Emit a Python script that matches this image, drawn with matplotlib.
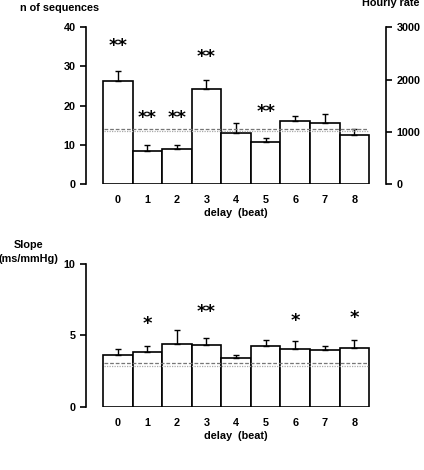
import numpy as np
import matplotlib
matplotlib.use("Agg")
import matplotlib.pyplot as plt

plt.rcParams['font.family'] = ['Liberation Sans', 'DejaVu Sans']
plt.rcParams['font.weight'] = 'bold'

# data
delays = [0, 1, 2, 3, 4, 5, 6, 7, 8]
n_seq = [26.3, 8.3, 8.9, 24.2, 12.9, 10.6, 16.0, 15.6, 12.6]
n_seq_err = [2.5, 1.7, 1.1, 2.4, 2.7, 1.1, 1.4, 2.3, 1.5]
n_seq_stars = ['**', '**', '**', '**', '', '**', '', '', '']
n_seq_star_y = [35.2, 16.8, 16.8, 32.4, 0, 18.4, 0, 0, 0]
n_seq_dash = 14.1
n_seq_dot = 13.6

slope = [3.61, 3.82, 4.42, 4.33, 3.42, 4.24, 4.05, 3.96, 4.14]
slope_err = [0.42, 0.44, 0.99, 0.52, 0.19, 0.47, 0.56, 0.28, 0.57]
slope_stars = ['', '*', '', '**', '', '', '*', '', '*']
slope_star_y = [0, 5.78, 0, 6.67, 0, 0, 6.04, 0, 6.2]
slope_dash = 3.07
slope_dot = 2.84

fs = 7.8

fig = plt.figure(figsize=(4.24, 4.7), dpi=100)


def bars(ax, vals, errs, stars, star_y, dash, dot):
    x = np.array(delays)
    ax.bar(x, vals, width=1.0, color='white', edgecolor='black', linewidth=1.2, zorder=2)
    ax.errorbar(x, vals, yerr=[np.zeros(len(errs)), errs], fmt='none', ecolor='black',
                elinewidth=1.0, capsize=2, capthick=1.0, zorder=3)
    ax.plot([-0.45, 8.45], [dash, dash], color='#777777', ls=(0, (3, 1.5)), lw=0.9, zorder=4)
    ax.plot([-0.45, 8.45], [dot, dot], color='#aaaaaa', ls=(0, (1, 1)), lw=0.9, zorder=4)
    for xi, s, yy in zip(x, stars, star_y):
        if s:
            ax.text(xi, yy, s, ha='center', va='center', fontsize=13, fontweight='bold',
                    family='DejaVu Sans')
    ax.set_xlim(-1.07, 9.07)
    ax.set_xticks(x)
    ax.set_xticklabels([str(d) for d in delays], fontsize=fs, fontweight='bold')
    ax.tick_params(axis='x', length=0, pad=8)
    ax.tick_params(axis='y', labelsize=fs, width=1.2, length=4)
    ax.spines['top'].set_visible(False)
    ax.spines['bottom'].set_visible(False)
    ax.spines['right'].set_visible(False)
    ax.spines['left'].set_linewidth(1.2)
    ax.set_xlabel('delay  (beat)', fontsize=fs, fontweight='bold', labelpad=2)


# top panel
ax1 = fig.add_axes([0.203, 0.6085, 0.7075, 0.3334])
bars(ax1, n_seq, n_seq_err, n_seq_stars, n_seq_star_y, n_seq_dash, n_seq_dot)
ax1.set_ylim(0, 40)
ax1.set_yticks([0, 10, 20, 30, 40])
for lab in ax1.get_yticklabels():
    lab.set_fontweight('bold')
ax1r = ax1.twinx()
ax1r.set_ylim(0, 40 * 75)
ax1r.set_yticks([0, 1000, 2000, 3000])
ax1r.tick_params(axis='y', labelsize=fs, width=1.2, length=4)
for lab in ax1r.get_yticklabels():
    lab.set_fontweight('bold')
for s in ['top', 'bottom', 'left']:
    ax1r.spines[s].set_visible(False)
ax1r.spines['right'].set_linewidth(1.2)
fig.text(0.047, 0.982, 'n of sequences', fontsize=fs, fontweight='bold', va='center')
fig.text(0.853, 0.993, 'Hourly rate', fontsize=fs, fontweight='bold', va='center')

# bottom panel
ax2 = fig.add_axes([0.203, 0.1347, 0.7075, 0.303])
bars(ax2, slope, slope_err, slope_stars, slope_star_y, slope_dash, slope_dot)
ax2.set_ylim(0, 10)
ax2.set_yticks([0, 5, 10])
for lab in ax2.get_yticklabels():
    lab.set_fontweight('bold')
fig.text(0.068, 0.478, 'Slope', fontsize=fs, fontweight='bold', ha='center', va='center')
fig.text(0.068, 0.45, '(ms/mmHg)', fontsize=fs, fontweight='bold', ha='center', va='center')

fig.savefig('out.png', dpi=100)
